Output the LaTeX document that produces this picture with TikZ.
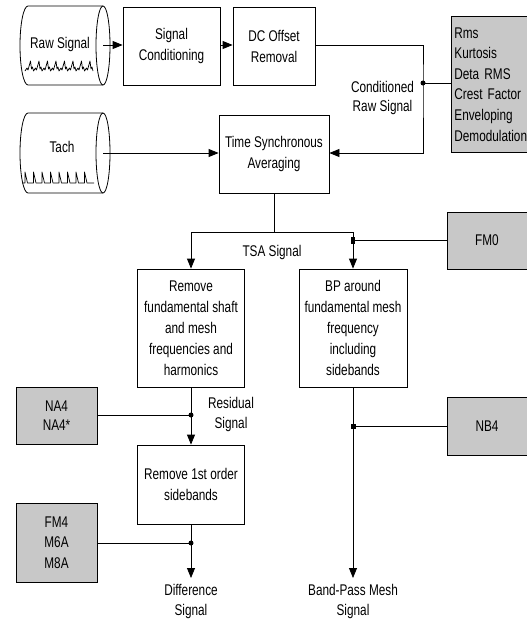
\documentclass[tikz,border=0pt]{standalone}
\usepackage{fontspec}
\setmainfont{Liberation Sans}[FakeStretch=0.76]
\usetikzlibrary{arrows.meta}
\definecolor{boxgray}{RGB}{200,200,200}
\begin{document}
\begin{tikzpicture}[x=1pt,y=1pt,font=\fontsize{15.5}{21}\selectfont,
  box/.style={draw,line width=0.8pt,fill=white,align=center,inner sep=2pt},
  gbox/.style={draw,line width=0.8pt,fill=boxgray,align=center,inner sep=2pt},
  conn/.style={line width=0.8pt},
  arr/.style={line width=0.8pt,-{Triangle[length=10pt,width=8pt]}},
  lbl/.style={align=center,inner sep=0pt},
  wave/.style={line width=0.7pt,line join=round}]
\useasboundingbox (0,0) rectangle (527,-624);

% drums
\draw[line width=0.8pt] (28,-6) -- (103,-6) arc[start angle=90,end angle=-90,x radius=7,y radius=39.5]
  -- (28,-85) arc[start angle=270,end angle=90,x radius=8,y radius=39.5] -- cycle;
\draw[line width=0.8pt] (103,-6) arc[start angle=90,end angle=270,x radius=7,y radius=39.5];
\draw[line width=0.8pt] (28,-113) -- (103,-113) arc[start angle=90,end angle=-90,x radius=7,y radius=40]
  -- (28,-193) arc[start angle=270,end angle=90,x radius=8,y radius=40] -- cycle;
\draw[line width=0.8pt] (103,-113) arc[start angle=90,end angle=270,x radius=7,y radius=40];
\draw[wave] (25,-71) \foreach \i in {0,...,7} { -- ++(2,3) -- ++(1,-2) -- ++(2.5,9) -- ++(1,-8) -- ++(1,2) -- ++(1,-4)};
\draw[wave] (22,-183) \foreach \i in {1,...,8} { -- ++(3,0) -- ++(0,11) -- ++(2.5,-11) -- ++(3,0)} -- ++(4,0);
\node[lbl] (rawtxt) at (60,-44) {Raw Signal};
\node[lbl] (tachtxt) at (62,-147) {Tach};
\coordinate (rawout) at (103,-45);
\coordinate (tachout) at (103,-153);

% boxes
\node[box,minimum width=97,minimum height=78] (sc) at (171.5,-46) {Signal\\Conditioning};
\node[box,minimum width=82,minimum height=78] (dc) at (274,-46) {DC Offset\\Removal};
\node[box,minimum width=110,minimum height=78] (tsa) at (274,-154) {Time Synchronous\\Averaging};
\node[box,minimum width=107,minimum height=118] (rem) at (191,-328) {Remove\\fundamental shaft\\and mesh\\frequencies and\\harmonics};
\node[box,minimum width=108,minimum height=118] (bp) at (353,-328) {BP around\\fundamental mesh\\frequency\\including\\sidebands};
\node[box,minimum width=107,minimum height=79] (r1) at (191,-484.5) {Remove 1st order\\sidebands};

% gray boxes
\node[gbox,anchor=north west,minimum height=136,text width=73pt,align=left,inner xsep=3pt,
  font=\fontsize{15.5}{20.6}\selectfont] (rms) at (451,-16) {Rms\\Kurtosis\\Deta RMS\\Crest Factor\\Enveloping\\Demodulation};
\node[gbox,minimum width=80,minimum height=57] (fm0) at (487,-240.5) {FM0};
\node[gbox,minimum width=80,minimum height=58] (nb4) at (487,-426) {NB4};
\node[gbox,minimum width=81,minimum height=57,font=\fontsize{15.5}{19}\selectfont] (na4) at (56.5,-415.5) {NA4\\NA4*};
\node[gbox,minimum width=81,minimum height=79,font=\fontsize{15.5}{20.5}\selectfont] (fm4) at (56.5,-542.5) {FM4\\M6A\\M8A};

% top connectors
\draw[arr] (rawout) -- (sc.west |- rawout);
\draw[arr] (sc.east |- rawout) -- (dc.west |- rawout);
\draw[arr] (tachout) -- (tsa.west |- tachout);
\coordinate (crj) at (423,-83);
\draw[arr] (dc.east |- rawout) -| (crj) |- (tsa.east |- tachout);
\draw[conn] (crj) -- (rms.west |- crj);
\fill (crj) circle (2.5);
\node[lbl,font=\fontsize{15.5}{19}\selectfont] (condtxt) at (382.5,-97.5) {Conditioned\\Raw Signal};

% TSA split
\coordinate (tj) at (274,-232);
\coordinate (tl) at (191,-232);
\coordinate (tr) at (353,-232);
\draw[conn] (tsa.south) -- (tj);
\draw[arr] (tj) -- (tl) -- (tl |- rem.north);
\draw[arr] (tj) -- (tr) -- (tr |- bp.north);
\coordinate (fj) at (353,-240);
\draw[conn] (fj) -- (fm0.west |- fj);
\node[fill,inner sep=0pt,minimum width=4,minimum height=7] (fjdot) at (fj) {};
\node[lbl] (tsatxt) at (272,-252) {TSA Signal};

% left column
\coordinate (nj) at (191,-415);
\draw[arr] (rem.south) -- (r1.north);
\draw[conn] (na4.east |- nj) -- (nj);
\fill (nj) circle (2.5);
\node[lbl,font=\fontsize{15.5}{20}\selectfont] (restxt) at (231,-414) {Residual\\Signal};
\coordinate (dend) at (191,-578);
\draw[arr] (r1.south) -- (dend);
\coordinate (mj) at (191,-543);
\draw[conn] (fm4.east |- mj) -- (mj);
\fill (mj) circle (2.5);
\node[lbl,font=\fontsize{15.5}{20}\selectfont] (difftxt) at (191,-601) {Difference\\Signal};

% right column
\coordinate (bend) at (353,-578);
\draw[arr] (bp.south) -- (bend);
\coordinate (bj) at (353,-426);
\draw[conn] (bj) -- (nb4.west |- bj);
\node[fill,inner sep=0pt,minimum size=5] (bjdot) at (bj) {};
\node[lbl,font=\fontsize{15.5}{20}\selectfont] (bpmtxt) at (353,-601) {Band-Pass Mesh\\Signal};
\end{tikzpicture}
\end{document}
